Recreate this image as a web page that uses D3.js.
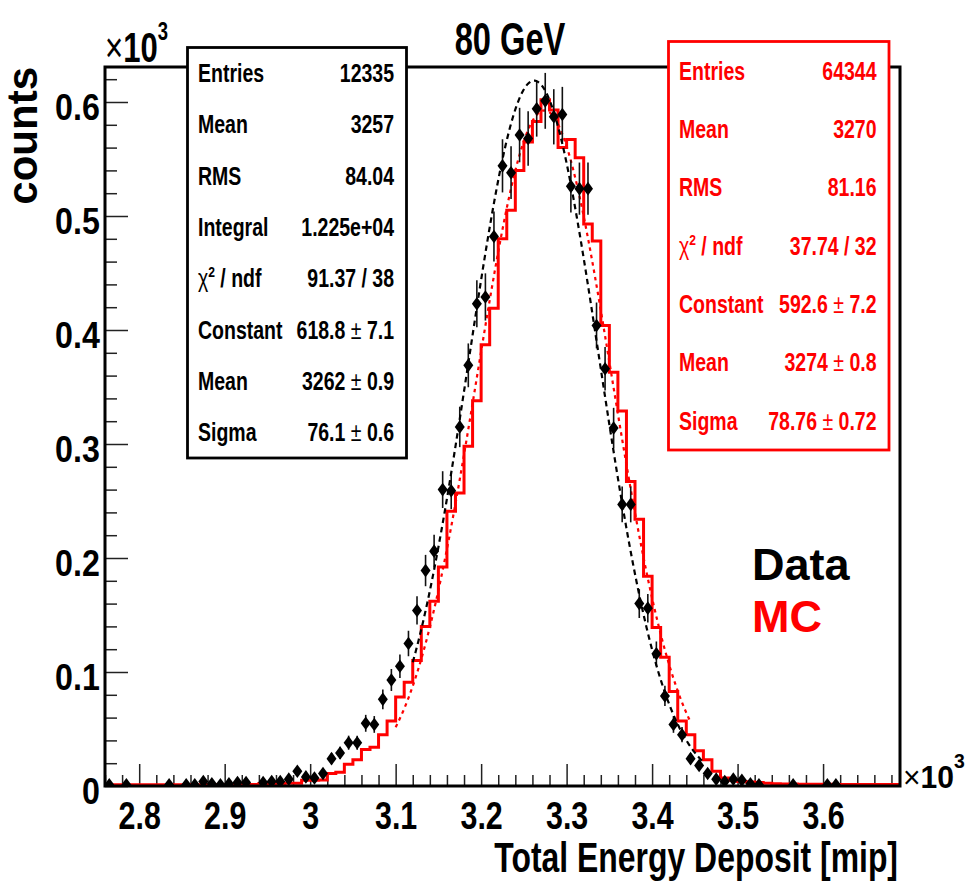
<!DOCTYPE html>
<html><head><meta charset="utf-8">
<script src="https://cdn.jsdelivr.net/npm/d3@7"></script>
<style>
body{margin:0;background:#fff;}
text{font-family:"Liberation Sans",Arial,Helvetica,sans-serif;}
</style></head><body>
<svg id="c" width="971" height="884"></svg>
<script>
// Binning of both histograms (mip)
const binLow = 2760, binWidth = 10;

// Test-beam data, counts per 10-mip bin from 2760 to 3690
const dataCounts = [
  1,0,1,0,0,0,0,1,0,1, 1,4,2,1,2,3,3,0,3,4,
  4,6,13,8,7,11,24,29,38,38, 55,54,76,93,105,125,154,189,206,260,
  259,315,369,423,429,482,544,538,571,568, 594,601,587,589,526,524,524,404,366,314,
  247,247,160,156,116,79,54,45,24,18, 11,6,4,6,5,2,1,0,0,0,
  1,0,0,0,1,1,0,0,0,0, 0,0,0
];

// Simulation, normalised to the data
const mcCounts = [
  1.0,1.0,1.0,1.0,1.1,1.1,1.1,1.1,1.2,1.2, 1.2,1.2,1.3,1.3,1.3,1.3,1.4,1.4,2.2,2.2,
  2.3,2.4,2.5,5,5,5.3,11,12,19,23, 32,34,45,57,78,91,110,140,162,192,
  241,257,298,338,387,419,480,505,540,565, 583,602,593,560,567,551,493,478,404,363,
  329,267,234,184,139,113,83,57,45,31, 23,13,7,5,4,3.5,3,2.5,2,1.8,
  1.7,1.6,1.5,1.5,1.5,1.4,1.4,1.4,1.4,1.4, 1.4,1.4,1.4
];

// Gaussian fits: [constant, mean, sigma] and fit range
const dataFitPar = [618.8, 3262, 76.1];
const dataFitRange = [3120, 3460];
const mcFitPar = [592.6, 3274, 78.76];
const mcFitRange = [3100, 3445];

// Axis ticks
const xTickValues = [2800, 2900, 3000, 3100, 3200, 3300, 3400, 3500, 3600];
const xTickLabels = ["2.8", "2.9", "3", "3.1", "3.2", "3.3", "3.4", "3.5", "3.6"];
const yTickValues = [0, 100, 200, 300, 400, 500, 600];
const yTickLabels = ["0", "0.1", "0.2", "0.3", "0.4", "0.5", "0.6"];

// Statistics boxes
const dataStatLabels = ["Entries", "Mean", "RMS", "Integral", "chi2", "Constant", "Mean", "Sigma"];
const dataStatValues = ["12335", "3257", "84.04", "1.225e+04", "91.37 / 38", "618.8 \u00b1 7.1", "3262 \u00b1 0.9", "76.1 \u00b1 0.6"];
const mcStatLabels = ["Entries", "Mean", "RMS", "chi2", "Constant", "Mean", "Sigma"];
const mcStatValues = ["64344", "3270", "81.16", "37.74 / 32", "592.6 \u00b1 7.2", "3274 \u00b1 0.8", "78.76 \u00b1 0.72"];

const L = 105, R = 900, T = 67, B = 786;
const RED = "#ff0000";
const svg = d3.select("#c");

const x = d3.scaleLinear().domain([binLow, binLow + binWidth * dataCounts.length]).range([L, R]);
const y = d3.scaleLinear().domain([0, 630.7]).range([B, T]);

svg.append("defs").append("clipPath").attr("id", "plot")
  .append("rect").attr("x", L).attr("y", T).attr("width", R - L).attr("height", B - T);

// --- axes (ticks point into the frame) ---
function styleTicks(g) {
  g.select(".domain").remove();
  g.selectAll(".tick line").attr("stroke", "#222").attr("stroke-width", 1.5);
}
const xMinor = d3.range(binLow, binLow + binWidth * dataCounts.length + 1, 20).filter(v => !xTickValues.includes(v));
svg.append("g").attr("transform", `translate(0,${B})`)
  .call(d3.axisBottom(x).tickValues(xMinor).tickSize(-11).tickFormat(""))
  .call(styleTicks);
const gx = svg.append("g").attr("transform", `translate(0,${B})`)
  .call(d3.axisBottom(x).tickValues(xTickValues).tickSize(-22).tickPadding(15)
    .tickFormat((d, i) => xTickLabels[i]))
  .call(styleTicks);
gx.selectAll(".tick text")
  .attr("font-family", "Liberation Sans, Arial, sans-serif")
  .attr("font-size", 39).attr("font-weight", "bold").attr("fill", "#000")
  .attr("transform", "scale(0.78,1)");

const yMinor = d3.range(0, 630, 20).filter(v => !yTickValues.includes(v));
svg.append("g").attr("transform", `translate(${L},0)`)
  .call(d3.axisLeft(y).tickValues(yMinor).tickSize(-12).tickFormat(""))
  .call(styleTicks);
const gy = svg.append("g").attr("transform", `translate(${L},0)`)
  .call(d3.axisLeft(y).tickValues(yTickValues).tickSize(-23).tickPadding(6)
    .tickFormat((d, i) => yTickLabels[i]))
  .call(styleTicks);
gy.selectAll(".tick text")
  .attr("font-family", "Liberation Sans, Arial, sans-serif")
  .attr("font-size", 37).attr("font-weight", "bold").attr("fill", "#000")
  .attr("dy", "0.46em")
  .attr("transform", "scale(0.87,1)");

const plot = svg.append("g").attr("clip-path", "url(#plot)");

// --- simulation histogram ---
const n = mcCounts.length;
const mcPts = mcCounts.map((c, i) => [binLow + i * binWidth, c]);
mcPts.push([binLow + n * binWidth, mcCounts[n - 1]]);
plot.append("path")
  .attr("d", d3.line().x(d => x(d[0])).y(d => y(d[1])).curve(d3.curveStepAfter)(mcPts))
  .attr("fill", "none").attr("stroke", RED).attr("stroke-width", 3);

// --- Gaussian fit curves ---
const gauss = (v, p) => p[0] * Math.exp(-0.5 * Math.pow((v - p[1]) / p[2], 2));
function fitCurve(par, range, color, dash) {
  const pts = d3.range(range[0], range[1] + 0.01, (range[1] - range[0]) / 200).map(v => [v, gauss(v, par)]);
  plot.append("path")
    .attr("d", d3.line().x(d => x(d[0])).y(d => y(d[1]))(pts))
    .attr("fill", "none").attr("stroke", color).attr("stroke-width", 2.2)
    .attr("stroke-dasharray", dash);
}
fitCurve(mcFitPar, mcFitRange, RED, "3.5,4");

// --- data points with statistical errors ---
const pts = dataCounts.map((c, i) => ({ v: binLow + (i + 0.5) * binWidth, c })).filter(d => d.c > 0);
plot.append("g").selectAll("line").data(pts).join("line")
  .attr("x1", d => x(d.v)).attr("x2", d => x(d.v))
  .attr("y1", d => y(d.c - Math.sqrt(d.c))).attr("y2", d => y(d.c + Math.sqrt(d.c)))
  .attr("stroke", "#111").attr("stroke-width", 1.6);
plot.append("g").selectAll("path").data(pts).join("path")
  .attr("transform", d => `translate(${x(d.v)},${y(d.c)})`)
  .attr("d", "M0,-6.8L5,0L0,6.8L-5,0Z")
  .attr("fill", "#000");

fitCurve(dataFitPar, dataFitRange, "#000", "5.5,4");

// --- frame ---
svg.append("rect").attr("x", L).attr("y", T).attr("width", R - L).attr("height", B - T)
  .attr("fill", "none").attr("stroke", "#000").attr("stroke-width", 3);

// --- text helper (condensed bold) ---
function label(x0, y0, str, opt = {}) {
  const t = svg.append("text")
    .attr("transform", `translate(${x0},${y0}) scale(${opt.sx ?? 1},1)` + (opt.rot ? ` rotate(${opt.rot})` : ""))
    .attr("font-size", opt.size ?? 25).attr("font-weight", opt.weight ?? "bold")
    .attr("fill", opt.color ?? "#000").attr("text-anchor", opt.anchor ?? "start");
  if (str === "chi2") {
    t.append("tspan").attr("font-weight", "normal").text("\u03c7");
    t.append("tspan").attr("font-size", (opt.size ?? 25) * 0.62).attr("dy", -10).text("2");
    t.append("tspan").attr("dy", 10).text(" / ndf");
  } else if (str.includes("\u00b1")) {
    const [a, b] = str.split("\u00b1");
    t.append("tspan").text(a);
    t.append("tspan").attr("font-weight", "normal").text("\u00b1");
    t.append("tspan").text(b);
  } else {
    t.text(str);
  }
  return t;
}

// --- statistics boxes ---
function statBox(x0, y0, w, h, labels, values, color) {
  svg.append("rect").attr("x", x0).attr("y", y0).attr("width", w).attr("height", h)
    .attr("fill", "#fff").attr("stroke", color).attr("stroke-width", 2.8);
  const rowH = h / labels.length;
  labels.forEach((lab, i) => {
    const cy = y0 + rowH * (i + 0.5) + 9;
    label(x0 + 10.5, cy, lab, { sx: 0.78, color });
    label(x0 + w - 12.5, cy, values[i], { sx: 0.78, color, anchor: "end" });
  });
}
statBox(187.5, 47.5, 219, 410.5, dataStatLabels, dataStatValues, "#000");
statBox(668.5, 41.5, 220.5, 408.5, mcStatLabels, mcStatValues, RED);

// --- titles ---
label(510, 55, "80 GeV", { size: 46, sx: 0.71, anchor: "middle" });
label(37, 67, "counts", { size: 42, rot: -90, anchor: "end" });
label(898, 872, "Total Energy Deposit [mip]", { size: 42, sx: 0.76, anchor: "end" });

// axis multipliers
const m1 = svg.append("text").attr("transform", "translate(105,62) scale(0.74,1)")
  .attr("font-size", 42).attr("fill", "#000");
m1.append("tspan").text("\u00d7");
m1.append("tspan").attr("font-weight", "bold").text("10");
m1.append("tspan").attr("font-size", 25).attr("font-weight", "bold").attr("dy", -22).text("3");
const m2 = svg.append("text").attr("transform", "translate(903,788) scale(0.97,1)")
  .attr("font-size", 31).attr("fill", "#000");
m2.append("tspan").text("\u00d7");
m2.append("tspan").attr("font-weight", "bold").text("10");
m2.append("tspan").attr("font-size", 20).attr("font-weight", "bold").attr("dy", -20).text("3");

// legend
label(752, 580, "Data", { size: 45 });
label(752, 632, "MC", { size: 45, color: RED });
</script>
</body></html>
